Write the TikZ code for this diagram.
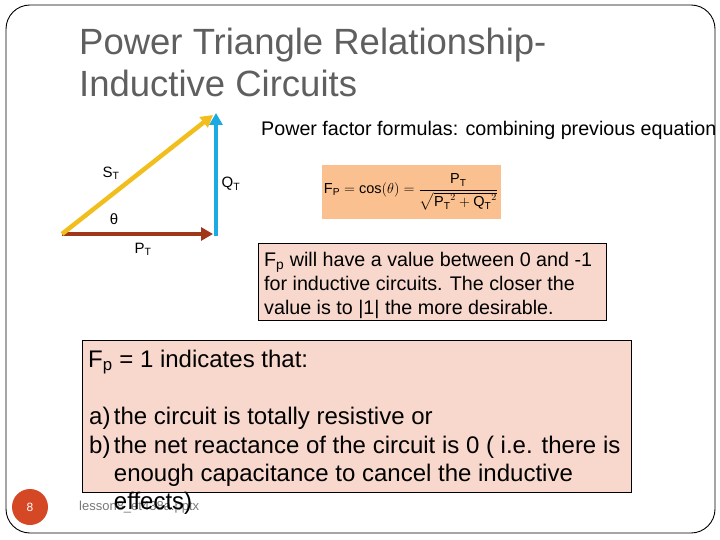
\documentclass[tikz,border=0pt]{standalone}
\usepackage{amsmath}
\usepackage{fontspec}
\setmainfont{Liberation Sans}
\usetikzlibrary{arrows.meta,positioning}
\definecolor{titlegray}{RGB}{95,95,95}
\definecolor{gold}{RGB}{242,190,30}
\definecolor{sky}{RGB}{28,170,226}
\definecolor{rust}{RGB}{158,56,24}
\definecolor{peach}{RGB}{250,192,143}
\definecolor{blush}{RGB}{248,216,204}
\definecolor{pagered}{RGB}{212,72,38}
\definecolor{footgray}{RGB}{120,120,120}
\tikzset{
  vec/.style={line width=4.5pt,-{Triangle[length=12pt,width=13pt]}},
  vlabel/.style={font=\fontsize{15}{18}\selectfont,inner sep=0pt},
  title/.style={font=\fontsize{36.5}{44}\selectfont,text=titlegray,anchor=base west,inner sep=0pt},
  body/.style={font=\fontsize{19.7}{24}\selectfont,anchor=base west,inner sep=0pt},
  bigbody/.style={font=\fontsize{24}{28}\selectfont,anchor=base west,inner sep=0pt},
  note/.style={draw=black,line width=0.8pt,fill=blush},
  frame/.style={draw=black,line width=0.9pt,rounded corners=24pt}
}

\begin{document}
\begin{tikzpicture}[x=1pt,y=-1pt]
  \useasboundingbox (0,0) rectangle (720,540);
  % title
  \node[title] (t1) at (79,55) {Power Triangle Relationship-};
  \node[title] (t2) at (79,97) {Inductive Circuits};
  % power triangle
  \coordinate (o) at (62,234);
  \coordinate (r) at (213,234);
  \coordinate (qb) at (216,236);
  \coordinate (qt) at (216,113);
  \coordinate (st) at (213,115);
  \draw[vec,sky] (qb)--(qt);
  \draw[vec,rust] (o)--(r);
  \draw[vec,gold] (o)--(st);
  \node[vlabel] (sl) at (111,173) {S\textsubscript{T}};
  \node[vlabel] (ql) at (231,184) {Q\textsubscript{T}};
  \node[vlabel] (th) at (114,219) {θ};
  \node[vlabel] (pl) at (143,249) {P\textsubscript{T}};
  % formula
  \node[body] (pf) at (261,136) {Power factor formulas: combining previous equation};
  \node[fill=peach,minimum width=179pt,minimum height=54pt,inner sep=0pt,
    font=\fontsize{14.5}{17}\selectfont] (fm) at (411,192)
    {$\mathrm{F_P}=\cos(\theta)=\dfrac{\mathrm{P_T}}{\sqrt{\mathrm{P_T}^2+\mathrm{Q_T}^2}}$};
  % range note
  \draw[note] (258,243) rectangle (606,320);
  \node[body] (r1) at (264,266) {F\textsubscript{p} will have a value between 0 and -1};
  \node[body] (r2) at (264,290) {for inductive circuits.  The closer the};
  \node[body] (r3) at (264,314) {value is to |1| the more desirable.};
  % unity note
  \draw[note] (82,340) rectangle (631,492);
  \node[bigbody] (u1) at (88,367) {F\textsubscript{p} = 1 indicates that:};
  \node[bigbody] (u2) at (89,424) {a)};
  \node[bigbody] (u3) at (89,453) {b)};
  \node[bigbody,right=3pt of u2.base east,anchor=base west] (u2t) {the circuit is totally resistive or};
  \node[bigbody,right=3pt of u3.base east,anchor=base west] (u3t) {the net reactance of the circuit is 0 ( i.e. there is};
  \node[font=\fontsize{13}{15}\selectfont,text=footgray,anchor=base west,inner sep=0pt] (ft) at (79,510) {lesson8\_et438a.pptx};
  \node[bigbody] (u4) at (u3t.base west |- 0,481) {enough capacitance to cancel the inductive};
  \node[bigbody] (u5) at (u3t.base west |- 0,509) {effects)};
  % footer
  \node[circle,fill=pagered,minimum size=36pt,inner sep=0pt,text=white,
    font=\fontsize{12}{14}\selectfont] (pg) at (30,507) {8};
  \draw[frame] (6,5) rectangle (715,533);
\end{tikzpicture}
\end{document}
